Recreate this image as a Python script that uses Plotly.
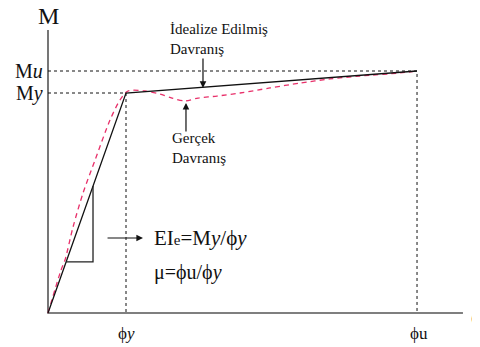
import plotly.graph_objects as go

# Idealized (bilinear) moment-curvature: (0,0) -> (phi_y, M_y) -> (phi_u, M_u)
phi_y = 1.0
phi_u = 4.731
M_y = 1.0
M_u = 1.10
ideal_phi = [0.0, phi_y, phi_u]
ideal_M = [0.0, M_y, M_u]

real_phi = [0.0, 0.167, 0.218, 0.321, 0.449, 0.603, 0.795, 0.923, 1.026, 1.244, 1.436,
            1.590, 1.756, 1.923, 2.167, 2.462, 2.846, 3.231, 3.615, 4.0, 4.513, 4.731]
real_M = [0.0, 0.195, 0.241, 0.391, 0.545, 0.695, 0.877, 0.968, 1.009, 1.009, 0.995,
          0.977, 0.964, 0.977, 0.986, 1.0, 1.023, 1.045, 1.064, 1.077, 1.091, 1.10]

# Stiffness triangle corners
tri_phi = [0.232, 0.577, 0.577]
tri_M = [0.232, 0.232, 0.577]

x_axis_end = 5.32
y_axis_end = 1.286

FONT = "Liberation Serif"
INK = "#111111"
RED = "#e8306a"

# page body has an 8px margin: figure is shifted, so size it to the visible area
OFF = 8
W, H = 480 - OFF, 347 - OFF
PX_X, PX_Y = 78.0, 220.0      # pixels per data unit
X0, Y0 = 48 - OFF, 313 - OFF  # origin in figure pixels

fig = go.Figure()

# axes
fig.add_trace(go.Scatter(x=[0, 0, x_axis_end], y=[y_axis_end, 0, 0], mode="lines",
                         line=dict(color="#555555", width=1.6), hoverinfo="skip"))
# dotted guides
fig.add_trace(go.Scatter(x=[0, phi_y, phi_y], y=[M_y, M_y, 0], mode="lines",
                         line=dict(color=INK, width=1, dash="dot"), hoverinfo="skip"))
fig.add_trace(go.Scatter(x=[0, phi_u, phi_u], y=[M_u, M_u, 0], mode="lines",
                         line=dict(color=INK, width=1, dash="dot"), hoverinfo="skip"))
# actual (dashed red)
fig.add_trace(go.Scatter(x=real_phi, y=real_M, mode="lines",
                         line=dict(color=RED, width=1.3, dash="5px,4px", shape="spline", smoothing=0.8),
                         hoverinfo="skip"))
# idealized
fig.add_trace(go.Scatter(x=ideal_phi, y=ideal_M, mode="lines",
                         line=dict(color=INK, width=1.3), hoverinfo="skip"))
# triangle
fig.add_trace(go.Scatter(x=tri_phi, y=tri_M, mode="lines",
                         line=dict(color="#222222", width=1.3), hoverinfo="skip"))

def txt(x, y, s, size, xanchor="center", align="center"):
    fig.add_annotation(x=x, y=y, xref="x", yref="y", text=s, showarrow=False,
                       xanchor=xanchor, yanchor="middle", align=align,
                       font=dict(family=FONT, size=size, color=INK))

def arrow(x, y, ax, ay):
    fig.add_annotation(x=x, y=y, ax=ax, ay=ay, xref="x", yref="y", axref="x", ayref="y",
                       text="", showarrow=True, arrowhead=2, arrowsize=1.1, arrowwidth=1.2,
                       arrowcolor=INK, standoff=0, startstandoff=0)

txt(0.0, 1.348, "M", 24)
txt(-0.04, M_u, "M<i>u</i>", 20, xanchor="right")
txt(-0.04, M_y, "M<i>y</i>", 20, xanchor="right")
txt(phi_y, -0.091, "ϕ<i>y</i>", 17)
txt(phi_u + 0.03, -0.091, "ϕu", 17)
txt(5.40, -0.014, "ϕ", 26, xanchor="left")
txt(1.538, 1.245, "İdealize Edilmiş<br>Davranış", 15, xanchor="left", align="left")
txt(1.564, 0.75, "Gerçek<br>Davranış", 15, xanchor="left", align="left")
txt(1.333, 0.341, "EI<span style='font-size:15px'>e</span>=M<i>y</i>/ϕ<i>y</i>", 21, xanchor="left")
txt(1.333, 0.186, "μ=ϕu/ϕ<i>y</i>", 20, xanchor="left")

arrow(1.987, 1.023, 1.987, 1.164)
arrow(1.769, 0.955, 1.769, 0.818)
arrow(1.218, 0.341, 0.744, 0.341)

fig.update_layout(
    width=W, height=H,
    margin=dict(l=0, r=0, t=0, b=0),
    paper_bgcolor="white", plot_bgcolor="white",
    showlegend=False,
    font=dict(family=FONT, color=INK),
    xaxis=dict(range=[-X0 / PX_X, (W - X0) / PX_X], visible=False, fixedrange=True),
    yaxis=dict(range=[-(H - Y0) / PX_Y, Y0 / PX_Y], visible=False, fixedrange=True),
)

fig.write_html("out.html")
